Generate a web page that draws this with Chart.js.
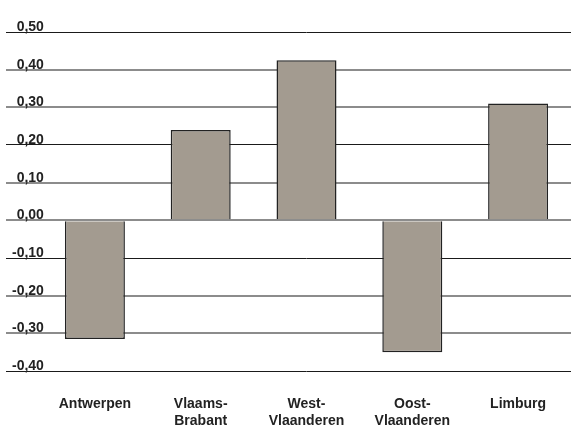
<!DOCTYPE html>
<html>
<head>
<meta charset="utf-8">
<style>
    html, body { margin: 0; padding: 0; background: #ffffff; }
    #chart-wrap { width: 571px; height: 427px; }
</style>
<script src="https://cdn.jsdelivr.net/npm/chart.js@4/dist/chart.umd.min.js"></script>
</head>
<body>
<div id="chart-wrap"><canvas id="province-chart" width="571" height="427"></canvas></div>
<script>
var provinces = [
    'Antwerpen',
    ['Vlaams-', 'Brabant'],
    ['West-', 'Vlaanderen'],
    ['Oost-', 'Vlaanderen'],
    'Limburg'
];
var provinceValues = [-0.315, 0.24, 0.425, -0.35, 0.31];
var yTicks = [0.5, 0.4, 0.3, 0.2, 0.1, 0, -0.1, -0.2, -0.3, -0.4];

// lines that look solid black in the original, the rest looks grey
var darkLines = ['0.5', '0.2', '-0.1', '-0.4'];

document.addEventListener('DOMContentLoaded', function () {
    var ctx = document.getElementById('province-chart').getContext('2d');
    var labelFont = { family: "'Liberation Sans', Arial, sans-serif", size: 14, weight: 'bold', lineHeight: 1.25 };

    new Chart(ctx, {
        type: 'bar',
        data: {
            labels: provinces,
            datasets: [{
                data: provinceValues,
                backgroundColor: '#a39b90',
                borderColor: '#222222',
                borderWidth: 1.5,
                categoryPercentage: 1,
                barPercentage: 0.567
            }]
        },
        options: {
            responsive: false,
            animation: false,
            layout: { padding: { top: 32, right: 0, bottom: 0, left: 0 } },
            plugins: {
                legend: { display: false },
                tooltip: { enabled: false }
            },
            scales: {
                x: {
                    grid: { display: false, drawTicks: false, tickLength: 0 },
                    border: { display: false },
                    ticks: {
                        color: '#222222',
                        font: labelFont,
                        padding: 24,
                        maxRotation: 0,
                        autoSkip: false
                    },
                    afterFit: function (scale) { scale.height = 56; }
                },
                y: {
                    min: -0.4,
                    max: 0.5,
                    afterBuildTicks: function (scale) {
                        scale.ticks = yTicks.map(function (v) { return { value: v }; });
                    },
                    afterFit: function (scale) { scale.width = 42; },
                    border: { display: false },
                    grid: {
                        drawTicks: true,
                        tickLength: 36,
                        color: function (c) {
                            var v = c.tick ? String(Math.round(c.tick.value * 10) / 10) : '';
                            return darkLines.indexOf(v) >= 0 ? '#1a1a1a' : '#8c8c8c';
                        },
                        lineWidth: function (c) {
                            var v = c.tick ? String(Math.round(c.tick.value * 10) / 10) : '';
                            return darkLines.indexOf(v) >= 0 ? 1 : 2;
                        }
                    },
                    ticks: {
                        color: '#222222',
                        font: labelFont,
                        mirror: true,
                        crossAlign: 'far',
                        padding: -30,
                        labelOffset: -5,
                        callback: function (value) {
                            return value.toFixed(2).replace('.', ',');
                        }
                    }
                }
            }
        }
    });
});
</script>
</body>
</html>
